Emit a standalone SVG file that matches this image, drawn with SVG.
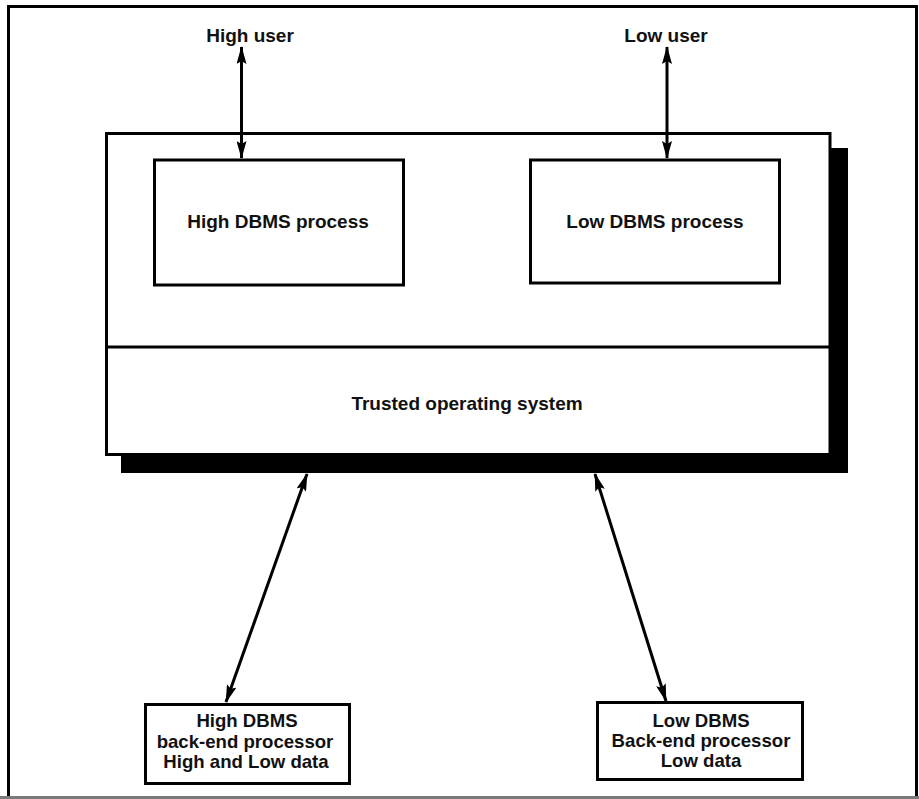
<svg xmlns="http://www.w3.org/2000/svg" width="919" height="799" viewBox="0 0 919 799">
  <style>
    .box { fill: #ffffff; stroke: #000000; stroke-width: 3; }
    .lbl { font-family: "Liberation Sans", Arial, sans-serif; font-weight: bold; font-size: 19px; fill: #111111; text-anchor: middle; }
    .sm { font-size: 18.6px; }
    .link { stroke: #000000; stroke-width: 3; fill: none; marker-start: url(#head); marker-end: url(#head); }
  </style>
  <defs>
    <marker id="head" viewBox="0 0 18 10" refX="17" refY="5" markerWidth="18" markerHeight="10" markerUnits="userSpaceOnUse" orient="auto-start-reverse">
      <path d="M0,0 L18,5 L0,10 L3,5 Z" fill="#000000"/>
    </marker>
  </defs>

  <rect width="919" height="799" fill="#ffffff"/>

  <!-- outer frame -->
  <g id="frame">
    <path d="M8.5,797 V6.5 H916.5 V797" fill="none" stroke="#000000" stroke-width="3"/>
    <line x1="0" y1="797.5" x2="919" y2="797.5" stroke="#7a7a7a" stroke-width="3"/>
  </g>

  <!-- host machine with drop shadow -->
  <g id="host">
    <rect x="121" y="148" width="727" height="325" fill="#000000"/>
    <rect class="box" x="106.5" y="133.5" width="723.5" height="321"/>
    <line x1="106.5" y1="347" x2="830" y2="347" stroke="#000000" stroke-width="3"/>
  </g>

  <g id="tos">
    <text class="lbl" x="467" y="410">Trusted operating system</text>
  </g>

  <g id="high-process">
    <rect class="box" x="154.5" y="160" width="249" height="125"/>
    <text class="lbl" x="278" y="228">High DBMS process</text>
  </g>

  <g id="low-process">
    <rect class="box" x="530.5" y="160" width="249" height="123"/>
    <text class="lbl" x="655" y="228">Low DBMS process</text>
  </g>

  <g id="high-user">
    <text class="lbl" x="250" y="42">High user</text>
  </g>

  <g id="low-user">
    <text class="lbl" x="666" y="42">Low user</text>
  </g>

  <g id="high-backend">
    <rect class="box" x="145.5" y="704.5" width="204" height="79"/>
    <text class="lbl sm" x="247" y="727">High DBMS</text>
    <text class="lbl sm" x="245" y="748">back-end processor</text>
    <text class="lbl sm" x="246" y="768">High and Low data</text>
  </g>

  <g id="low-backend">
    <rect class="box" x="597.5" y="702.5" width="205" height="77"/>
    <text class="lbl sm" x="701" y="727">Low DBMS</text>
    <text class="lbl sm" x="701" y="747">Back-end processor</text>
    <text class="lbl sm" x="701" y="767">Low data</text>
  </g>

  <!-- connectors -->
  <g id="connectors">
    <line class="link" x1="241.5" y1="47" x2="241.5" y2="158"/>
    <line class="link" x1="667" y1="47" x2="667" y2="158"/>
    <line class="link" x1="307" y1="474" x2="226" y2="702"/>
    <line class="link" x1="595" y1="474" x2="666" y2="701"/>
  </g>
</svg>
